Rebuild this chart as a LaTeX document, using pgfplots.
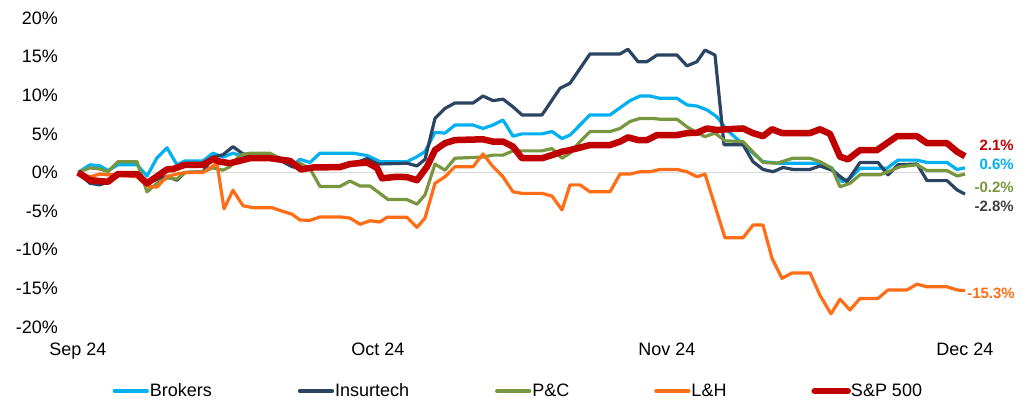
\documentclass[border=0pt]{standalone}
\usepackage{fontspec}
\setmainfont{Liberation Sans}
\usepackage{pgfplots}
\pgfplotsset{compat=1.18}
\definecolor{cBrok}{HTML}{00B0F0}
\definecolor{cIns}{HTML}{2A4462}
\definecolor{cPC}{HTML}{77963F}
\definecolor{cLH}{HTML}{FF6D17}
\definecolor{cSP}{HTML}{C00000}
\definecolor{cZero}{HTML}{D9D9D9}
\definecolor{cDark}{HTML}{404040}
\begin{document}
\begin{tikzpicture}
\useasboundingbox (-78pt,-73pt) rectangle (951pt,327pt);
\begin{axis}[
  at={(0pt,0pt)}, anchor=south west,
  scale only axis, width=887pt, height=309pt,
  xmin=78, xmax=965, ymin=-20, ymax=20,
  axis line style={draw=none}, major tick length=0pt,
  clip=false,
  xtick={78,378,667,965},
  xticklabels={Sep 24,Oct 24,Nov 24,Dec 24},
  ytick={-20,-15,-10,-5,0,5,10,15,20},
  yticklabels={-20\%,-15\%,-10\%,-5\%,0\%,5\%,10\%,15\%,20\%},
  tick label style={font=\fontsize{18}{20}\selectfont, inner sep=0pt},
  yticklabel style={anchor=east, xshift=-20pt},
  xticklabel style={anchor=north, yshift=-16pt},
  legend columns=5,
  legend style={at={(axis description cs:0.0389,-0.207)}, anchor=west,
    draw=none, fill=none, inner sep=0pt,
    font=\fontsize{18}{20}\selectfont,
    nodes={inner sep=0pt},
    column sep=0pt},
  legend cell align=left,
  legend image code/.code={\draw[#1, line cap=round] (0pt,0pt) -- (33pt,0pt);},
  every axis plot/.append style={line join=round, mark=none},
]
\addplot[cZero, line width=1.5pt, forget plot] coordinates {(78,0) (965,0)};

% Brokers
\addplot[cBrok, line width=3.2pt] coordinates {
(78,0) (90,1.0) (100,0.85) (108,0.25) (118,1.0) (137,1.0) (147,-0.45) (157,1.9) (167,3.2) (177,1.0)
(185,1.5) (203,1.5) (213,2.5) (223,2.0) (233,2.5) (243,2.1) (253,2.1) (267,2.0) (280,1.6) (292,0.85)
(300,1.7) (310,1.3) (320,2.5) (353,2.5) (367,2.2) (377,1.6) (380,1.4) (407,1.4) (417,2.05) (425,2.7)
(435,5.2) (445,5.1) (455,6.15) (473,6.15) (483,5.7) (493,6.15) (503,6.8) (513,4.7) (522,5.0) (542,5.0)
(552,5.3) (562,4.4) (570,4.85) (590,7.45) (610,7.45) (630,9.3) (640,9.9) (650,9.9) (660,9.6) (677,9.6)
(687,8.75) (697,8.6) (707,8.1) (717,7.2) (727,5.5) (740,4.0) (753,2.5) (763,1.4) (780,1.2) (820,1.2)
(832,0.55) (842,-1.2) (850,-0.75) (860,0.55) (887,0.55) (898,1.6) (917,1.6) (927,1.3) (947,1.3) (957,0.4) (965,0.6)
};
\addlegendentry{\makebox[149pt][l]{\hspace{1pt}Brokers}}

% Insurtech
\addplot[cIns, line width=3.2pt] coordinates {
(78,0) (90,-1.4) (100,-1.6) (108,-1.2) (118,-0.3) (137,-0.3) (147,-1.4) (157,-0.9) (167,-0.5) (177,-1.0)
(185,0) (203,0.1) (213,2.0) (223,2.3) (233,3.35) (243,2.4) (253,2.25) (270,1.9) (280,1.6) (292,0.75)
(300,0.55) (310,0.75) (340,0.75) (353,1.1) (367,1.8) (378,1.1) (407,1.2) (417,0.85) (425,1.7) (435,7.0)
(445,8.3) (455,9.0) (473,9.0) (483,9.9) (493,9.3) (503,9.5) (513,8.5) (522,7.45) (542,7.45) (560,10.9)
(570,11.55) (590,15.35) (620,15.35) (628,15.95) (638,14.35) (647,14.35) (657,15.2) (677,15.2) (687,13.8) (697,14.35)
(705,15.85) (715,15.2) (724,3.6) (743,3.6) (753,1.4) (763,0.4) (773,0.1) (783,0.65) (793,0.4) (810,0.4)
(820,0.85) (832,0.3) (847,-1.2) (860,1.3) (878,1.3) (888,-0.3) (898,1.0) (917,1.1) (927,-1.05) (947,-1.05) (957,-2.25) (965,-2.8)
};
\addlegendentry{\makebox[161pt][l]{\hspace{1pt}Insurtech}}

% P&C
\addplot[cPC, line width=3.2pt] coordinates {
(78,0) (90,0.6) (100,0.45) (108,0.1) (118,1.4) (137,1.4) (147,-2.5) (157,-1.4) (167,-0.7) (177,-0.85)
(185,0) (203,0.1) (213,0.6) (223,0.3) (230,0.75) (240,2.25) (250,2.5) (270,2.5) (280,1.85) (290,1.25)
(300,1.2) (310,0.5) (320,-1.8) (340,-1.8) (350,-1.1) (360,-1.75) (370,-1.75) (388,-3.5) (407,-3.5) (417,-4.1)
(425,-2.9) (435,1.1) (445,0.3) (455,1.85) (483,2.0) (493,2.25) (503,2.25) (513,2.8) (542,2.8) (552,3.1)
(562,1.85) (570,2.5) (580,4.0) (590,5.3) (610,5.3) (620,5.7) (630,6.6) (640,7.0) (653,7.0) (660,6.9)
(677,6.9) (687,5.9) (697,5.15) (705,4.65) (715,5.1) (725,4.1) (743,4.0) (763,1.3) (777,1.2) (793,1.85)
(810,1.85) (820,1.4) (832,0.55) (840,-1.85) (850,-1.4) (860,-0.3) (880,-0.3) (888,0.1) (900,0.75) (917,1.0)
(927,0.25) (947,0.25) (957,-0.45) (965,-0.2)
};
\addlegendentry{\makebox[123pt][l]{\hspace{1pt}P\&C}}

% L&H
\addplot[cLH, line width=3.2pt] coordinates {
(78,0) (90,-0.55) (100,-0.2) (108,-0.3) (118,-0.3) (137,-0.55) (147,-1.75) (157,-1.9) (167,-0.5) (177,-0.2)
(185,0) (203,0) (213,0.85) (217,1.2) (224,-4.7) (233,-2.3) (243,-4.3) (253,-4.55) (272,-4.55) (282,-5.0)
(292,-5.4) (300,-6.15) (310,-6.2) (320,-5.75) (340,-5.75) (350,-5.9) (360,-6.7) (370,-6.25) (380,-6.4) (387,-5.8)
(407,-5.8) (417,-7.1) (425,-5.9) (435,-1.4) (445,-0.55) (455,0.75) (473,0.75) (483,2.4) (493,0.75) (503,-0.55)
(513,-2.5) (522,-2.7) (542,-2.7) (552,-3.05) (562,-4.85) (570,-1.6) (580,-1.6) (590,-2.5) (610,-2.5) (620,-0.2)
(630,-0.2) (640,0.1) (650,0.1) (660,0.4) (677,0.4) (687,0.1) (697,-0.55) (705,-0.2) (725,-8.45) (743,-8.45)
(753,-6.8) (763,-6.8) (772,-11.1) (782,-13.7) (792,-13.0) (810,-13.0) (820,-15.9) (831,-18.3) (840,-16.4) (850,-17.8)
(860,-16.3) (878,-16.3) (888,-15.2) (907,-15.2) (917,-14.45) (927,-14.8) (947,-14.8) (957,-15.2) (965,-15.3)
};
\addlegendentry{\makebox[121pt][l]{\hspace{1pt}L\&H}}

% S&P 500
\addplot[cSP, line width=6.5pt] coordinates {
(78,0) (90,-1.0) (108,-1.2) (118,-0.2) (137,-0.2) (147,-1.4) (167,0.4) (173,0.45) (185,1.0) (203,1.0)
(213,1.75) (220,1.4) (230,1.2) (250,1.85) (270,1.85) (290,1.5) (301,0.4) (313,0.65) (340,0.7) (350,1.1)
(367,1.3) (377,0.6) (382,-0.75) (397,-0.55) (407,-0.6) (417,-1.0) (427,0.75) (435,2.9) (445,3.8) (455,4.2)
(483,4.3) (493,4.0) (503,4.0) (513,3.35) (522,1.85) (542,1.85) (552,2.25) (562,2.7) (570,2.9) (590,3.55)
(610,3.55) (620,4.0) (628,4.55) (638,4.2) (647,4.2) (657,4.85) (677,4.85) (687,5.1) (697,5.15) (707,5.7)
(717,5.5) (727,5.6) (743,5.7) (753,5.1) (763,4.7) (772,5.6) (782,5.1) (810,5.1) (820,5.6) (830,5.0)
(840,2.05) (848,1.7) (860,2.9) (877,2.9) (887,3.8) (897,4.7) (917,4.7) (927,3.8) (947,3.8) (957,2.7) (965,2.1)
};
\addlegendentry{S\&P 500}

\node[anchor=east, inner sep=0pt, text=cSP, font=\fontsize{15}{17}\selectfont\bfseries] at (axis cs:1014,3.56) {2.1\%};
\node[anchor=east, inner sep=0pt, text=cBrok, font=\fontsize{15}{17}\selectfont\bfseries] at (axis cs:1014,1.1) {0.6\%};
\node[anchor=east, inner sep=0pt, text=cPC, font=\fontsize{15}{17}\selectfont\bfseries] at (axis cs:1014,-1.88) {-0.2\%};
\node[anchor=east, inner sep=0pt, text=cDark, font=\fontsize{15}{17}\selectfont\bfseries] at (axis cs:1014,-4.34) {-2.8\%};
\node[anchor=east, inner sep=0pt, text=cLH, font=\fontsize{15}{17}\selectfont\bfseries] at (axis cs:1015,-15.6) {-15.3\%};
\end{axis}
\end{tikzpicture}
\end{document}
